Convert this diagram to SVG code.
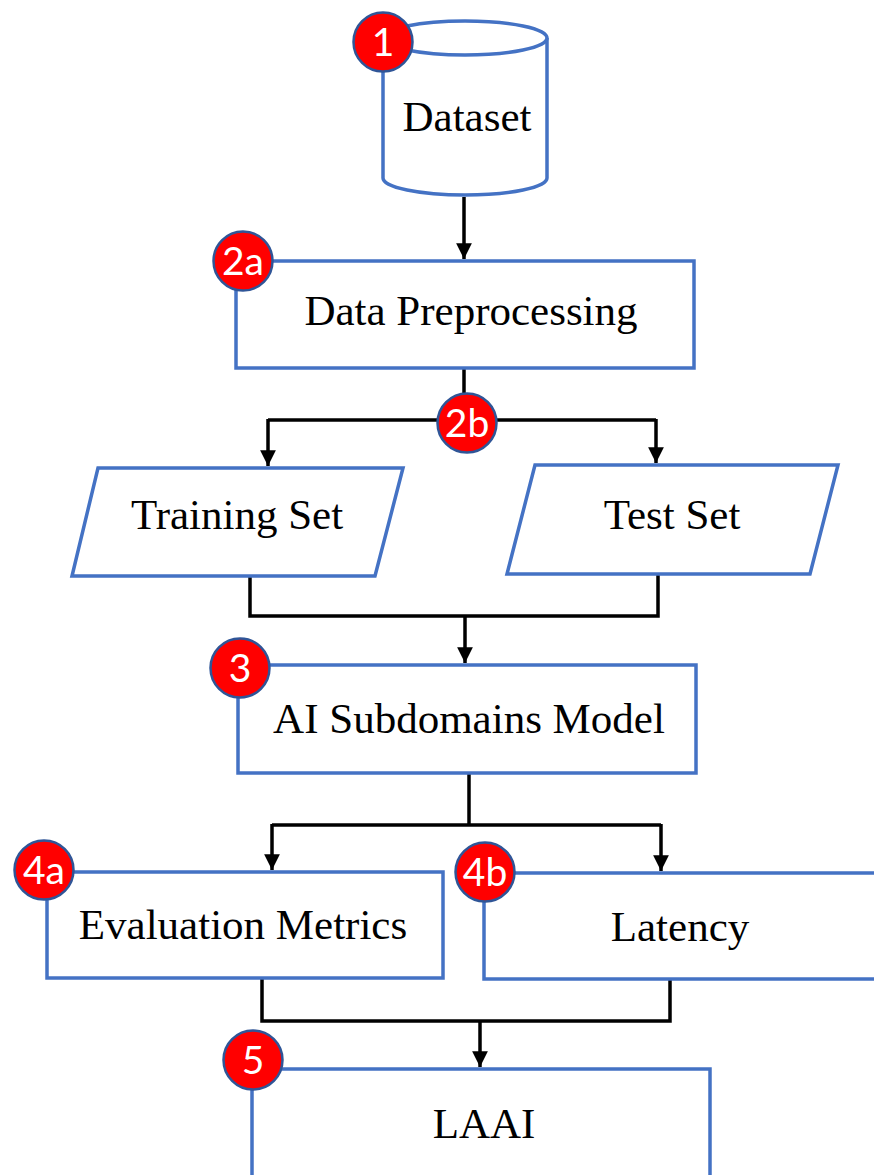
<svg xmlns="http://www.w3.org/2000/svg" width="874" height="1175" viewBox="0 0 874 1175">
<style>
.shape{fill:#fff;stroke:#4472C4;stroke-width:3.5}
.lbl{font-family:"Liberation Serif","Times New Roman",serif;font-size:43px;fill:#000;text-anchor:middle}
.badge circle{fill:#FF0000;stroke:#2F5597;stroke-width:2.5}
.badge text{font-family:Lato,"Open Sans",sans-serif;font-size:39px;fill:#fff;text-anchor:middle}
.conn{fill:none;stroke:#000;stroke-width:3.5}
</style>
<defs>
<marker id="arr" viewBox="0 0 10 10" refX="10" refY="5" markerWidth="4.5" markerHeight="4.5" orient="auto" markerUnits="strokeWidth">
<path d="M0,0 L10,5 L0,10 z" fill="#000"/>
</marker>
</defs>
<g id="connectors">
<path class="conn" d="M464,197 V259" marker-end="url(#arr)"/>
<path class="conn" d="M464,368 V420"/>
<path class="conn" d="M268,420 H656"/>
<path class="conn" d="M268,419 V466" marker-end="url(#arr)"/>
<path class="conn" d="M656,419 V463" marker-end="url(#arr)"/>
<path class="conn" d="M250,576 V616 H658 V574"/>
<path class="conn" d="M465,616 V663" marker-end="url(#arr)"/>
<path class="conn" d="M469,773 V825"/>
<path class="conn" d="M272,825 H661"/>
<path class="conn" d="M272,824 V870" marker-end="url(#arr)"/>
<path class="conn" d="M661,824 V871" marker-end="url(#arr)"/>
<path class="conn" d="M262,979 V1021 H670 V979"/>
<path class="conn" d="M480,1021 V1067" marker-end="url(#arr)"/>
</g>
<g id="node1">
<path class="shape" d="M383,38 V178 A82,17 0 0 0 547,178 V38"/>
<ellipse class="shape" cx="465" cy="38" rx="82" ry="17"/>
<text class="lbl" x="467" y="131">Dataset</text>
<g class="badge"><circle cx="383" cy="42" r="29.5"/><text x="383" y="56">1</text></g>
</g>
<g id="node2a">
<rect class="shape" x="236" y="261" width="458" height="107"/>
<text class="lbl" x="471" y="325">Data Preprocessing</text>
<g class="badge"><circle cx="243" cy="261" r="29.5"/><text x="243" y="275">2a</text></g>
</g>
<g id="node2b">
<g class="badge"><circle cx="467" cy="423" r="29.5"/><text x="467" y="437">2b</text></g>
</g>
<g id="nodeTrain">
<polygon class="shape" points="98,468 403,468 375,576 72,576"/>
<text class="lbl" x="237" y="529">Training Set</text>
</g>
<g id="nodeTest">
<polygon class="shape" points="535,465 838,465 810,574 507,574"/>
<text class="lbl" x="672" y="529">Test Set</text>
</g>
<g id="node3">
<rect class="shape" x="238" y="665" width="458" height="108"/>
<text class="lbl" x="469" y="733">AI Subdomains Model</text>
<g class="badge"><circle cx="240" cy="668" r="29.5"/><text x="240" y="682">3</text></g>
</g>
<g id="node4a">
<rect class="shape" x="47" y="872" width="396" height="106"/>
<text class="lbl" x="243" y="939">Evaluation Metrics</text>
<g class="badge"><circle cx="44" cy="870" r="29.5"/><text x="44" y="884">4a</text></g>
</g>
<g id="node4b">
<rect class="shape" x="484" y="873" width="395" height="106"/>
<text class="lbl" x="680" y="941">Latency</text>
<g class="badge"><circle cx="485" cy="872" r="29.5"/><text x="485" y="886">4b</text></g>
</g>
<g id="node5">
<rect class="shape" x="252" y="1069" width="458" height="120"/>
<text class="lbl" x="484" y="1138">LAAI</text>
<g class="badge"><circle cx="253" cy="1060" r="29.5"/><text x="253" y="1074">5</text></g>
</g>
</svg>
